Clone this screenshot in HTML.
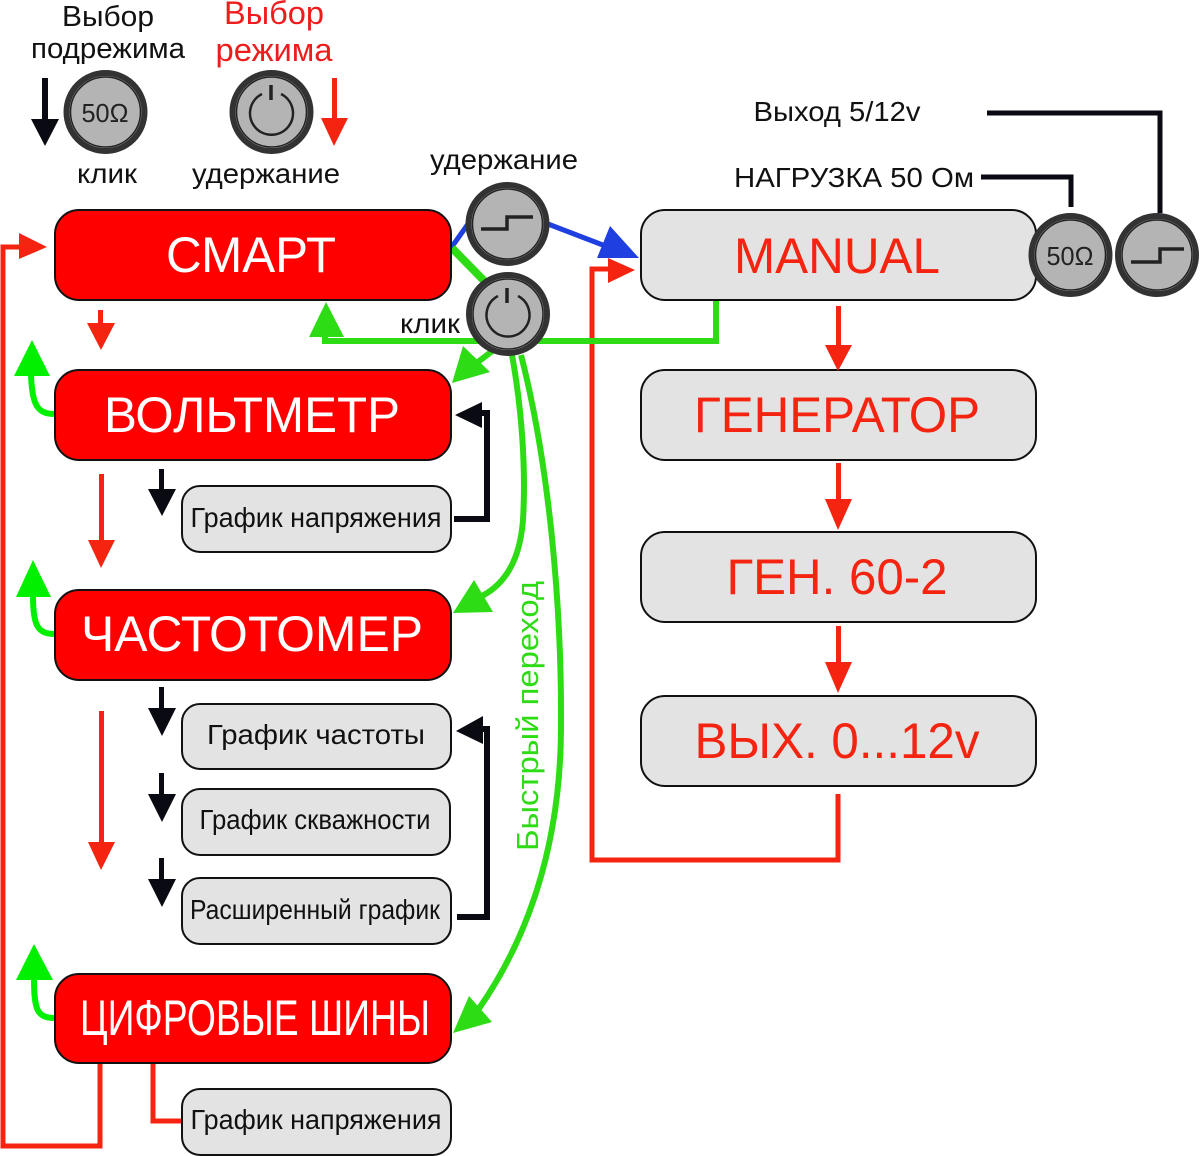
<!DOCTYPE html>
<html lang="ru"><head><meta charset="utf-8"><title>Диаграмма режимов</title>
<style>
html,body{margin:0;padding:0;background:#fff;width:1200px;height:1156px;overflow:hidden}
svg{display:block}
text{font-family:"Liberation Sans",sans-serif;text-anchor:middle}
.r{fill:#f00;stroke:#111;stroke-width:2}
.g{fill:#e3e3e3;stroke:#111;stroke-width:2}
.w{fill:#fff;font-size:50px}
.o{fill:#f42410;font-size:50px}
.b{fill:#111;font-size:28px}
.ln{fill:none;stroke-linejoin:miter}
.knob{fill:#b4b4b4;stroke:#333;stroke-width:6}
.ring{fill:none;stroke:#222;stroke-width:1.5}
.in{fill:none;stroke:#222;stroke-width:2.5}
.st{fill:none;stroke:#222;stroke-width:3.5}
</style></head><body>
<svg width="1200" height="1156" viewBox="0 0 1200 1156" xmlns="http://www.w3.org/2000/svg">

<!-- outer red loops -->
<path class="ln" stroke="#f42410" stroke-width="5" d="M100 1062V1146H3V247H22"/>
<path fill="#f42410" d="M19 233L47 247L19 259Z"/>
<path class="ln" stroke="#f42410" stroke-width="5" d="M153 1062V1121H184"/>
<path class="ln" stroke="#f42410" stroke-width="5" d="M838 794V860H592V269H612"/>
<path fill="#f42410" d="M608 258L635 270L608 283Z"/>

<!-- blue -->
<path class="ln" stroke="#1f3fe0" stroke-width="5" d="M451 248L468 224M548 224L608 247"/>
<path fill="#1f3fe0" d="M610 226L639 258L597 258Z"/>

<!-- green -->
<path class="ln" stroke="#2ddc14" stroke-width="8" d="M452 248L495 292"/>
<path class="ln" stroke="#2ddc14" stroke-width="6" d="M716 300V341H325V330"/>
<path fill="#2ddc14" d="M326 302L309 337L344 337Z"/>
<path class="ln" stroke="#2ddc14" stroke-width="6" d="M495 349L470 368"/>
<path fill="#2ddc14" d="M452 383L463 346L490 372Z"/>
<path class="ln" stroke="#2ddc14" stroke-width="6" d="M512 355C522 410 526 470 523 520C520 560 505 585 480 597"/>
<path fill="#2ddc14" d="M453 613L474 580L493 612Z"/>
<path class="ln" stroke="#2ddc14" stroke-width="6" d="M521 355C548 460 562 600 561 730C560 860 520 950 478 1010"/>
<path fill="#2ddc14" d="M453 1033L469 996L492 1022Z"/>
<path class="ln" stroke="#00f000" stroke-width="6" d="M55 414C37 414 32 405 31 374"/>
<path fill="#00f000" d="M32 340L14 376L50 376Z"/>
<path class="ln" stroke="#00f000" stroke-width="6" d="M55 634C37 634 33 625 33 595"/>
<path fill="#00f000" d="M33 560L16 597L51 597Z"/>
<path class="ln" stroke="#00f000" stroke-width="6" d="M55 1018C37 1018 34 1010 34 978"/>
<path fill="#00f000" d="M34 944L16 980L53 980Z"/>

<!-- nodes left -->
<rect class="r" x="55" y="210" width="396" height="90" rx="24"/>
<rect class="r" x="55" y="370" width="396" height="90" rx="24"/>
<rect class="r" x="55" y="590" width="396" height="90" rx="24"/>
<rect class="r" x="55" y="974" width="396" height="89" rx="24"/>
<text class="w" x="251" y="272" textLength="170" lengthAdjust="spacingAndGlyphs">СМАРТ</text>
<text class="w" x="252" y="432" textLength="296" lengthAdjust="spacingAndGlyphs">ВОЛЬТМЕТР</text>
<text class="w" x="252" y="651" textLength="342" lengthAdjust="spacingAndGlyphs">ЧАСТОТОМЕР</text>
<text class="w" x="255" y="1035" textLength="350" lengthAdjust="spacingAndGlyphs">ЦИФРОВЫЕ ШИНЫ</text>

<!-- sub nodes -->
<rect class="g" x="182" y="486" width="269" height="66" rx="18"/>
<rect class="g" x="182" y="704" width="269" height="65" rx="18"/>
<rect class="g" x="182" y="789" width="268" height="66" rx="18"/>
<rect class="g" x="182" y="878" width="269" height="66" rx="18"/>
<rect class="g" x="182" y="1089" width="269" height="66" rx="18"/>
<text class="b" x="316" y="527" textLength="251" lengthAdjust="spacingAndGlyphs">График напряжения</text>
<text class="b" x="316" y="744" textLength="218" lengthAdjust="spacingAndGlyphs">График частоты</text>
<text class="b" x="315" y="829" textLength="231" lengthAdjust="spacingAndGlyphs">График скважности</text>
<text class="b" x="315" y="919" textLength="250" lengthAdjust="spacingAndGlyphs">Расширенный график</text>
<text class="b" x="316" y="1129" textLength="251" lengthAdjust="spacingAndGlyphs">График напряжения</text>

<!-- right nodes -->
<rect class="g" x="641" y="210" width="395" height="90" rx="24"/>
<rect class="g" x="641" y="370" width="395" height="90" rx="24"/>
<rect class="g" x="641" y="532" width="395" height="90" rx="24"/>
<rect class="g" x="641" y="696" width="395" height="90" rx="24"/>
<text class="o" x="837" y="273" textLength="206" lengthAdjust="spacingAndGlyphs">MANUAL</text>
<text class="o" x="837" y="432" textLength="286" lengthAdjust="spacingAndGlyphs">ГЕНЕРАТОР</text>
<text class="o" x="837" y="594" textLength="221" lengthAdjust="spacingAndGlyphs">ГЕН. 60-2</text>
<text class="o" x="837" y="758" textLength="285" lengthAdjust="spacingAndGlyphs">ВЫХ. 0...12v</text>

<!-- red arrows -->
<g fill="#f42410">
<path d="M98 310h5v15h-5z"/><path d="M87 323H115L101 350Z"/>
<path d="M99 474h5v68h-5z"/><path d="M88 540H115L101 568Z"/>
<path d="M99 711h5v132h-5z"/><path d="M88 842H115L101 870Z"/>
<path d="M836 306h5v41h-5z"/><path d="M825 345H852L838 371Z"/>
<path d="M836 463h5v38h-5z"/><path d="M825 499H852L838 530Z"/>
<path d="M836 626h5v38h-5z"/><path d="M825 662H852L838 693Z"/>
<path d="M332 78h5v42h-5z"/><path d="M321 118H348L334 146Z"/>
</g>

<!-- black arrows -->
<g fill="#0a0a12">
<path d="M159 469h5v22h-5z"/><path d="M148 489H176L162 516Z"/>
<path d="M159 687h5v24h-5z"/><path d="M148 708H176L162 736Z"/>
<path d="M159 773h5v24h-5z"/><path d="M148 794H176L162 822Z"/>
<path d="M159 858h5v24h-5z"/><path d="M148 879H176L162 907Z"/>
<path d="M42 78h6v43h-6z"/><path d="M31 119H59L45 146Z"/>
<path d="M455 415L482 402V428Z"/>
<path d="M456 731L483 716V744Z"/>
</g>
<path class="ln" stroke="#0a0a12" stroke-width="6" d="M454 519H487V413H478"/>
<path class="ln" stroke="#0a0a12" stroke-width="6" d="M457 917H487V729H478"/>
<path class="ln" stroke="#0a0a12" stroke-width="5" d="M987 113H1160V213"/>
<path class="ln" stroke="#0a0a12" stroke-width="5" d="M981 177H1071V207"/>

<!-- knobs -->
<circle class="knob" cx="105.500" cy="112" r="39"/><circle class="ring" cx="105.500" cy="112" r="35"/>
<text x="105" y="122" fill="#222" font-size="26" textLength="47" lengthAdjust="spacingAndGlyphs">50Ω</text>

<circle class="knob" cx="271.500" cy="112" r="39"/><circle class="ring" cx="271.500" cy="112" r="35"/>
<path class="in" d="M262 94A21.500 21.500 0 1 0 281 94"/>
<path d="M271 85V100" stroke="#222" stroke-width="3.500"/>

<circle class="knob" cx="507.500" cy="224" r="39"/><circle class="ring" cx="507.500" cy="224" r="35"/>
<path class="st" d="M481 229H507V217H533"/>

<circle class="knob" cx="508" cy="314" r="39"/><circle class="ring" cx="508" cy="314" r="35"/>
<path class="in" d="M498 296A21.500 21.500 0 1 0 518 296"/>
<path d="M507 288V303" stroke="#222" stroke-width="3.500"/>

<circle class="knob" cx="1070.500" cy="255" r="39"/><circle class="ring" cx="1070.500" cy="255" r="35"/>
<text x="1070" y="265" fill="#222" font-size="26" textLength="47" lengthAdjust="spacingAndGlyphs">50Ω</text>

<circle class="knob" cx="1157" cy="255" r="39"/><circle class="ring" cx="1157" cy="255" r="35"/>
<path class="st" d="M1131 262H1160V249H1184"/>

<!-- labels -->
<text x="108" y="26" fill="#111" font-size="29" textLength="92" lengthAdjust="spacingAndGlyphs">Выбор</text>
<text x="108" y="58" fill="#111" font-size="29" textLength="154" lengthAdjust="spacingAndGlyphs">подрежима</text>
<text x="274" y="24" fill="#ee1c1c" font-size="32" textLength="100" lengthAdjust="spacingAndGlyphs">Выбор</text>
<text x="274" y="61" fill="#ee1c1c" font-size="32" textLength="117" lengthAdjust="spacingAndGlyphs">режима</text>
<text x="107" y="183" fill="#111" font-size="28" textLength="60" lengthAdjust="spacingAndGlyphs">клик</text>
<text x="266" y="183" fill="#111" font-size="28" textLength="148" lengthAdjust="spacingAndGlyphs">удержание</text>
<text x="504" y="169" fill="#111" font-size="28" textLength="148" lengthAdjust="spacingAndGlyphs">удержание</text>
<text x="430" y="333" fill="#111" font-size="28" textLength="60" lengthAdjust="spacingAndGlyphs">клик</text>
<text x="837" y="121" fill="#111" font-size="28" textLength="167" lengthAdjust="spacingAndGlyphs">Выход 5/12v</text>
<text x="854" y="187" fill="#111" font-size="28" textLength="240" lengthAdjust="spacingAndGlyphs">НАГРУЗКА 50 Ом</text>
<text transform="translate(538 716) rotate(-90)" fill="#2ddc14" font-size="31" textLength="270" lengthAdjust="spacingAndGlyphs">Быстрый переход</text>
</svg>
</body></html>
